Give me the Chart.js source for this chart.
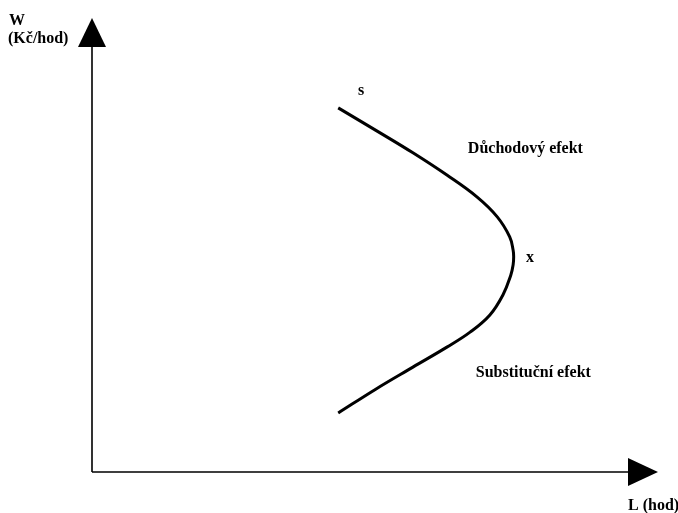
<!DOCTYPE html>
<html>
<head>
<meta charset="utf-8">
<script src="https://cdn.jsdelivr.net/npm/chart.js@4/dist/chart.umd.min.js"></script>
<style>
  html, body { margin: 0; padding: 0; background: #fff; }
  #wrap { width: 678px; height: 513px; }
</style>
</head>
<body>
<div id="wrap"><canvas id="graf"></canvas></div>
<script>
// nabidka prace - zpetne zakrivena krivka (L = hodiny, W = mzda)
const nabidkaL = [43.5, 50.9, 56.7, 62.7, 68.0, 71.6, 73.8, 74.4, 74.5, 74.4, 74.0, 72.6, 70.3, 66.8, 62.7, 56.7, 50.2, 43.5];
const nabidkaW = [80.2, 74.7, 70.3, 65.4, 60.6, 56.2, 51.8, 48.9, 47.4, 45.6, 43.4, 39.0, 34.6, 30.8, 27.5, 23.1, 18.3, 13.0];

const popisOsaY = ["W", "(Kč/hod)"];
const popisOsaX = "L (hod)";
const popisky = ["s", "Důchodový efekt", "x", "Substituční efekt"];

const body = nabidkaL.map((l, i) => ({ x: l, y: nabidkaW[i] }));

const font = 'bold 16px "Liberation Serif", "Times New Roman", serif';

// osy se sipkami a popisky
const osyPlugin = {
    id: "osy",
    afterDraw(chart) {
        const ctx = chart.ctx;
        const sx = chart.scales.x;
        const sy = chart.scales.y;
        const x0 = sx.getPixelForValue(0);
        const y0 = sy.getPixelForValue(0);
        const xMax = sx.getPixelForValue(sx.max);
        const yMax = sy.getPixelForValue(sy.max);

        ctx.save();
        ctx.strokeStyle = "#000";
        ctx.fillStyle = "#000";
        ctx.lineWidth = 1.6;

        ctx.beginPath();
        ctx.moveTo(x0, y0);
        ctx.lineTo(x0, yMax + 28);
        ctx.moveTo(x0, y0);
        ctx.lineTo(xMax - 28, y0);
        ctx.stroke();

        // sipka nahoru
        ctx.beginPath();
        ctx.moveTo(x0, yMax);
        ctx.lineTo(x0 - 14, yMax + 29);
        ctx.lineTo(x0 + 14, yMax + 29);
        ctx.closePath();
        ctx.fill();

        // sipka doprava
        ctx.beginPath();
        ctx.moveTo(xMax, y0);
        ctx.lineTo(xMax - 30, y0 - 14);
        ctx.lineTo(xMax - 30, y0 + 14);
        ctx.closePath();
        ctx.fill();

        ctx.font = font;
        ctx.textAlign = "left";
        ctx.textBaseline = "alphabetic";
        ctx.fillText(popisOsaY[0], 9, 25);
        ctx.fillText(popisOsaY[1], 8, 43);
        ctx.fillText(popisOsaX, 628, 510);

        ctx.fillText(popisky[0], sx.getPixelForValue(47.0), sy.getPixelForValue(83.0));
        ctx.fillText(popisky[1], sx.getPixelForValue(66.4), sy.getPixelForValue(70.3));
        ctx.fillText(popisky[2], sx.getPixelForValue(76.7), sy.getPixelForValue(46.2));
        ctx.fillText(popisky[3], sx.getPixelForValue(67.8), sy.getPixelForValue(20.9));
        ctx.restore();
    }
};

new Chart(document.getElementById("graf").getContext("2d"), {
    type: "scatter",
    data: {
        datasets: [{
            label: "Nabídka práce",
            data: body,
            showLine: true,
            borderColor: "#000",
            borderWidth: 3,
            pointRadius: 0,
            tension: 0.4,
            fill: false
        }]
    },
    options: {
        responsive: true,
        maintainAspectRatio: false,
        animation: false,
        layout: { padding: { left: 92, top: 18, right: 20, bottom: 41 } },
        plugins: {
            legend: { display: false },
            tooltip: { enabled: false }
        },
        scales: {
            x: { type: "linear", min: 0, max: 100, display: false },
            y: { type: "linear", min: 0, max: 100, display: false }
        }
    },
    plugins: [osyPlugin]
});
</script>
</body>
</html>
